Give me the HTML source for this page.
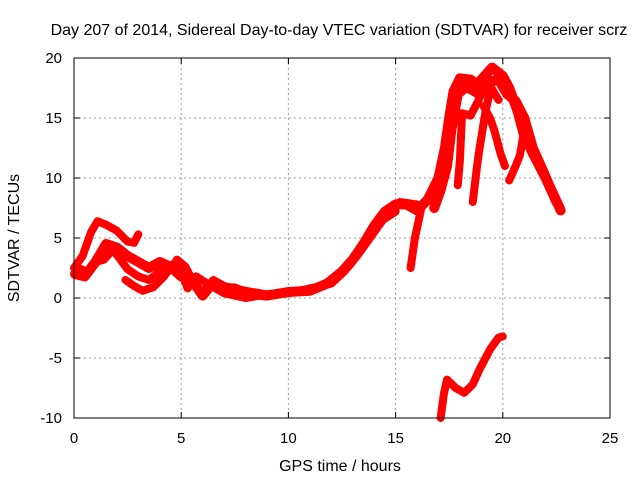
<!DOCTYPE html>
<html><head><meta charset="utf-8"><style>
body{margin:0;background:#fff}
svg{display:block;font-family:"Liberation Sans",sans-serif}
</style></head><body>
<svg id="chart" width="640" height="480">
<g id="grid"></g>
<g id="series"></g>
<rect x="74" y="58" width="536" height="360" fill="none" stroke="#000" stroke-width="1"/>
<g id="ticks"></g>
<text x="339" y="35" font-size="16" text-anchor="middle">Day 207 of 2014, Sidereal Day-to-day VTEC variation (SDTVAR) for receiver scrz</text>
<text x="340" y="471" font-size="16" text-anchor="middle">GPS time / hours</text>
<text x="19" y="238" font-size="16" text-anchor="middle" transform="rotate(-90 19 238)">SDTVAR / TECUs</text>
</svg>
<script>
const xTicks=[0,5,10,15,20,25];
const yTicks=[-10,-5,0,5,10,15,20];
const arcA=[[0,2.5],[0.4,3.5],[0.8,5.5],[1.1,6.4],[1.5,6.1],[2,5.6],[2.5,4.7],[2.8,4.6],[3,5.3]];
const arcB=[[0.05,2],[0.5,1.8],[1,3],[1.5,4.5],[2,4.2],[2.5,3.5],[3,3],[3.5,2.5],[4,3],[4.5,2.6],[5,1.8],[5.5,1.5],[6,0.2],[6.5,1.3],[7,0.8],[7.5,0.8],[8,0.4],[9,0.2],[10,0.5],[11,0.6],[11.8,1.2],[12.5,2.2],[13,3.2],[13.5,4.5],[14,6],[14.5,7.2],[15,7.8],[15.5,7.8],[16,7.3],[16.5,8.2],[17,10],[17.3,12.5],[17.5,15],[17.7,17.2],[18,18.3],[18.5,18.2],[18.8,17.8],[19.2,18.6],[19.5,19.2],[20,18.5],[20.3,17.5],[20.7,15.5],[21,13.5],[21.5,11.7],[22,10],[22.4,8.5],[22.7,7.3]];
const arcC=[[0.2,2.5],[0.6,2.2],[1,3],[1.4,3.2],[1.8,4],[2,3.6],[2.5,2.4],[3,1.8],[3.5,1.5],[4,2.2],[4.5,2.3],[4.8,3.2],[5.2,2.6],[5.6,1.2],[6,0.5],[6.5,1.5],[7,1],[8,0.6],[9,0.3],[10,0.5],[11,0.6],[12,1.4],[12.8,2.6],[13.4,4],[14,5.5],[14.6,7],[15.2,8],[16,7.8]];
const arcD=[[2.4,1.5],[2.8,1],[3.2,0.6],[3.7,0.9],[4.2,1.8],[4.6,2.8],[5,2.2],[5.3,0.8],[5.7,1.8],[6.3,1.1],[7,0.4],[8,0],[9,0.3],[10,0.4],[11,0.8],[12,1.2],[12.6,2.2],[13.2,3.5],[13.8,5],[14.4,6.5],[15,7.2]];
const arcE=[[15.7,2.5],[15.9,5],[16.2,7.5],[16.6,8.5]];
const arcF=[[17.9,9.4],[18,11.5],[18.1,15.4],[18.5,15.2],[19.1,17.3],[19.4,17.7],[19.8,16.5]];
const arcG=[[18.6,8],[18.8,11],[18.9,12.3],[19.2,15.6],[19.4,17.2]];
const arcH=[[19.1,16],[19.4,15],[19.6,14],[19.9,12],[20.1,11]];
const arcI=[[20.3,9.8],[20.6,11],[20.8,11.9],[21,14],[21.3,13],[21.7,11],[22.2,9],[22.7,7.5]];
const arcJ=[[17.1,-10],[17.25,-8],[17.4,-6.8],[17.8,-7.5],[18.2,-7.9],[18.6,-7.2],[18.9,-6],[19.4,-4.3],[19.8,-3.3],[20,-3.2]];
const arcK=[[16.8,7.5],[17.1,9],[17.4,11],[17.6,14],[17.9,17],[18.3,17.6],[18.9,17],[19.3,18],[19.8,18.2],[20.2,17],[20.6,16.4],[21,15],[21.4,12.5],[21.9,10.5],[22.5,8]];
const X=h=>74+h*21.44, Y=v=>298-v*12;
const NS='http://www.w3.org/2000/svg';
const grid=document.getElementById('grid'),tk=document.getElementById('ticks'),ser=document.getElementById('series');
xTicks.forEach(t=>{
 const x=X(t);
 if(t>0&&t<25){const l=document.createElementNS(NS,'line');
 
 
 l.setAttribute('x1',x);l.setAttribute('x2',x);l.setAttribute('y1',58);l.setAttribute('y2',418);l.setAttribute('stroke','#999');l.setAttribute('stroke-dasharray','2,3');grid.appendChild(l);}
 const m=document.createElementNS(NS,'path');
 
 
 m.setAttribute('d',`M${x} 418v-6M${x} 58v6`);m.setAttribute('stroke','#000');tk.appendChild(m);
 const tx=document.createElementNS(NS,'text');
 
 
 tx.setAttribute('x',x);tx.setAttribute('y',443);tx.setAttribute('font-size','15');tx.setAttribute('text-anchor','middle');tx.textContent=t;tk.appendChild(tx);
});
yTicks.forEach(t=>{
 const y=Y(t);
 if(t>-10&&t<20){const l=document.createElementNS(NS,'line');
 
 
 l.setAttribute('x1',74);l.setAttribute('x2',610);l.setAttribute('y1',y);l.setAttribute('y2',y);l.setAttribute('stroke','#999');l.setAttribute('stroke-dasharray','2,3');grid.appendChild(l);}
 const m=document.createElementNS(NS,'path');
 
 
 m.setAttribute('d',`M74 ${y}h6M610 ${y}h-6`);m.setAttribute('stroke','#000');tk.appendChild(m);
 const tx=document.createElementNS(NS,'text');
 
 
 tx.setAttribute('x',62);tx.setAttribute('y',y+5);tx.setAttribute('font-size','15');tx.setAttribute('text-anchor','end');tx.textContent=t;tk.appendChild(tx);
});
[arcA,arcB,arcC,arcD,arcE,arcF,arcG,arcH,arcI,arcJ,arcK].forEach((arc,i)=>{
 const p=document.createElementNS(NS,'polyline');
 
 
 p.setAttribute('points',arc.map(d=>X(d[0])+','+Y(d[1])).join(' '));
 p.setAttribute('fill','none');p.setAttribute('stroke','#f00');p.setAttribute('stroke-width',(i==1||i==10)?'10':'8');p.setAttribute('stroke-linejoin','round');p.setAttribute('stroke-linecap','round');
 ser.appendChild(p);
});
</script>
</body></html>
